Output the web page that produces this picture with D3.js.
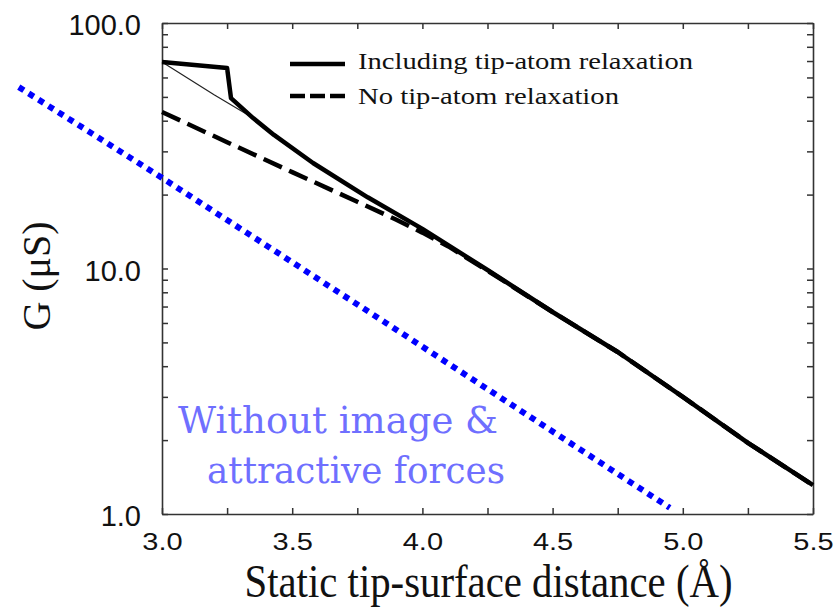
<!DOCTYPE html>
<html>
<head>
<meta charset="utf-8">
<script src="https://cdn.jsdelivr.net/npm/d3@7"></script>
<style>
  body { margin: 0; background: #fff; }
  svg { display: block; }
</style>
</head>
<body>
<div id="chart"></div>
<script>
// conductance vs static tip-surface distance
const relaxX = [3.0, 3.25, 3.265, 3.35, 3.43, 3.58, 3.79, 4.0, 4.25, 4.5, 4.75, 5.0, 5.25, 5.5];
const relaxG = [69.3, 65.6, 49.4, 41.0, 35.0, 26.9, 19.5, 14.5, 9.86, 6.65, 4.57, 3.0, 1.95, 1.31];

const noRelaxX = [3.0, 3.25, 3.5, 3.75, 3.9, 4.0, 4.1, 4.25, 4.5, 4.75, 5.0, 5.25, 5.5];
const noRelaxG = [43.4, 32.7, 24.7, 18.7, 15.8, 14.0, 12.3, 9.8, 6.65, 4.57, 3.0, 1.95, 1.31];

// thin guide line at the jump
const thinX = [3.0, 3.2, 3.35];
const thinG = [69.3, 51, 41];

// blue dotted line: without image & attractive forces
const blueX = [2.45, 3.0, 3.86, 4.95];
const blueG = [54.8, 23.4, 6.0, 1.06];

const xTicks = [3.0, 3.25, 3.5, 3.75, 4.0, 4.25, 4.5, 4.75, 5.0, 5.25, 5.5];
const xLabels = [3.0, 3.5, 4.0, 4.5, 5.0, 5.5];
const yTicks = [1, 2, 3, 4, 5, 6, 7, 8, 9, 10, 20, 30, 40, 50, 60, 70, 80, 90, 100];
const yLabels = [1, 10, 100];

const legendNames = ["Including tip-atom relaxation", "No tip-atom relaxation"];
const noteLines = ["Without image &", "attractive forces"];

const W = 840, H = 610;
const m = {left: 162, right: 813, top: 23, bottom: 514};

const svg = d3.select("#chart").append("svg")
  .attr("width", W).attr("height", H);

const x = d3.scaleLinear().domain([3.0, 5.5]).range([m.left, m.right]);
const y = d3.scaleLog().domain([1, 100]).range([m.bottom, m.top]);

const line = d3.line()
  .x(d => x(d[0]))
  .y(d => y(d[1]));

const zip = (a, b) => a.map((v, i) => [v, b[i]]);

// axes (ticks point inward, domain lines make the frame)
const bottomAxis = svg.append("g")
  .attr("transform", "translate(0," + m.bottom + ")")
  .call(d3.axisBottom(x).tickValues(xTicks).tickSizeInner(-6).tickSizeOuter(0)
    .tickFormat(d => xLabels.includes(d) ? d.toFixed(1) : ""));

bottomAxis.selectAll("text")
  .attr("y", 45).attr("dy", null)
  .attr("transform", "scale(1,0.8)")
  .style("font-family", "'Liberation Sans', Arial, sans-serif")
  .style("font-size", "29px")
  .style("fill", "#111");

svg.append("g")
  .attr("transform", "translate(0," + m.top + ")")
  .call(d3.axisTop(x).tickValues(xTicks).tickSizeInner(-6).tickSizeOuter(0).tickFormat(""));

const leftAxis = svg.append("g")
  .attr("transform", "translate(" + m.left + ",0)")
  .call(d3.axisLeft(y).tickValues(yTicks).tickSizeInner(-6).tickSizeOuter(0).tickPadding(21)
    .tickFormat(d => yLabels.includes(d) ? d.toFixed(1) : ""));

leftAxis.selectAll("text")
  .attr("dy", "0.4em")
  .style("font-family", "'Liberation Sans', Arial, sans-serif")
  .style("font-size", "29px")
  .style("fill", "#111");

svg.append("g")
  .attr("transform", "translate(" + m.right + ",0)")
  .call(d3.axisRight(y).tickValues(yTicks).tickSizeInner(-6).tickSizeOuter(0).tickFormat(""));

svg.selectAll(".domain").attr("stroke", "#333").attr("stroke-width", 1.6);
svg.selectAll(".tick line").attr("stroke", "#333").attr("stroke-width", 1.5);

// curves
svg.append("path")
  .datum(zip(thinX, thinG))
  .attr("fill", "none").attr("stroke", "#222").attr("stroke-width", 1.2)
  .attr("d", line);

svg.append("path")
  .datum(zip(noRelaxX, noRelaxG))
  .attr("fill", "none").attr("stroke", "#000").attr("stroke-width", 4.5)
  .attr("stroke-dasharray", "20,8")
  .attr("d", line);

svg.append("path")
  .datum(zip(relaxX, relaxG))
  .attr("fill", "none").attr("stroke", "#000").attr("stroke-width", 4.5)
  .attr("stroke-linejoin", "round")
  .attr("d", line);

svg.append("path")
  .datum(zip(blueX, blueG))
  .attr("fill", "none").attr("stroke", "#0000ff").attr("stroke-width", 6)
  .attr("stroke-dasharray", "6,5.7")
  .attr("d", line);

// legend
const legend = svg.append("g");
const legendY = [64, 96];
const legendBase = [69, 104];
const legendLen = [335, 261];
legendNames.forEach((name, i) => {
  legend.append("line")
    .attr("x1", 290).attr("x2", 345)
    .attr("y1", legendY[i]).attr("y2", legendY[i])
    .attr("stroke", "#000").attr("stroke-width", 4.5)
    .attr("stroke-dasharray", i === 1 ? "15,5" : null);
  legend.append("text")
    .attr("x", 358).attr("y", legendBase[i])
    .attr("textLength", legendLen[i])
    .attr("lengthAdjust", "spacingAndGlyphs")
    .style("font-family", "'Liberation Serif', 'Times New Roman', serif")
    .style("font-size", "22.5px")
    .style("fill", "#111")
    .text(name);
});

// annotation
const noteX = [178, 207];
const noteY = [433, 483];
const noteLen = [320, 298];
noteLines.forEach((t, i) => {
  svg.append("text")
    .attr("x", noteX[i]).attr("y", noteY[i])
    .attr("textLength", noteLen[i])
    .attr("lengthAdjust", "spacingAndGlyphs")
    .style("font-family", "'DejaVu Serif', Georgia, serif")
    .style("font-size", "37px")
    .style("fill", "#6f6fff")
    .text(t);
});

// axis titles
svg.append("text")
  .attr("x", (m.left + m.right) / 2 + 1).attr("y", 597)
  .attr("text-anchor", "middle")
  .attr("textLength", 488)
  .attr("lengthAdjust", "spacingAndGlyphs")
  .style("font-family", "'Liberation Serif', 'Times New Roman', serif")
  .style("font-size", "46px")
  .style("fill", "#111")
  .text("Static tip-surface distance (Å)");

svg.append("text")
  .attr("transform", "translate(50,276) rotate(-90)")
  .attr("text-anchor", "middle")
  .style("font-family", "'Liberation Serif', 'Times New Roman', serif")
  .style("font-size", "40px")
  .style("fill", "#111")
  .text("G (μS)");
</script>
</body>
</html>
